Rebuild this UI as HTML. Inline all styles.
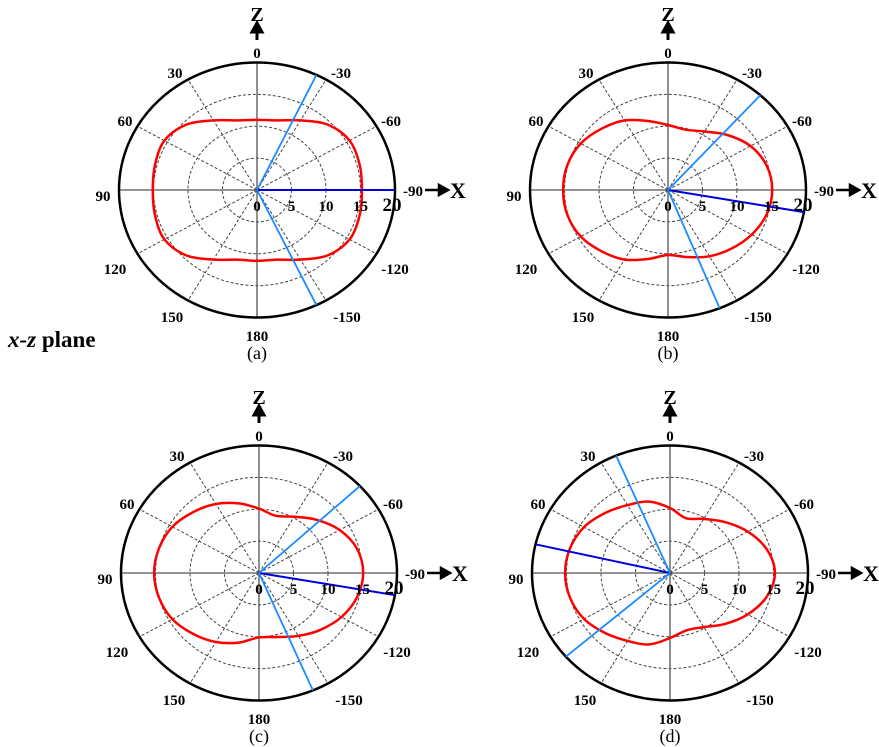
<!DOCTYPE html>
<html><head><meta charset="utf-8"><style>
html,body{margin:0;padding:0;background:#fff}
svg{display:block}
text{font-family:"Liberation Serif",serif;font-weight:bold;fill:#000}
text.cap{font-weight:normal}
</style></head><body>
<svg id="chart" width="879" height="747" viewBox="0 0 879 747" xmlns="http://www.w3.org/2000/svg">
<text x="8" y="347" font-size="23"><tspan font-style="italic">x-z</tspan> plane</text>
</svg>
<script>
const angles=[0,15,30,45,60,75,90,105,120,135,150,165,180,195,210,225,240,255,270,285,300,315,330,345];
const patternA=[11,11.3,12.6,14.5,15.5,15.3,15.1,15.3,15.5,14.5,12.6,11.3,11.1,11.3,12.6,14.5,15.5,15.4,15.2,15.4,15.5,14.5,12.6,11.3];
const patternB=[10.2,11.2,12.6,13.6,14.6,15.1,15.2,15.1,14.6,13.6,12.6,11.2,10.2,10.9,12.0,13.0,14.0,14.8,15.1,14.8,13.8,12.2,10.6,9.8];
const patternC=[10.1,11.3,12.5,13.5,14.5,15.0,15.2,15.0,14.5,13.5,12.5,11.3,10.1,10.4,11.4,12.6,13.8,14.7,15.1,14.7,13.5,11.8,10.2,9.3];
const patternD=[10.2,11.6,12.3,13.3,14.4,15.0,15.2,15.0,14.4,13.3,12.3,11.6,10.2,9.3,9.8,11.3,13.0,14.5,15.2,14.5,13.0,11.3,9.8,8.9];
const darkBeamAngles=[-90,-100,-100,77];
const lightBeamAngles=[[-25.5,-154.5],[-42,-158],[-47,-157],[23,131]];
const rTicks=[0,5,10,15,20];
const angleLabels=[0,30,60,90,120,150,180,-150,-120,-90,-60,-30];
const panelNames=["a","b","c","d"];
const patterns=[patternA,patternB,patternC,patternD];
const centers=[[257,190],[668,190],[259,573],[670,573]];
const RX=138,RY=127.5,RMAX=20;
const svg=document.getElementById('chart');
const NS='http://www.w3.org/2000/svg';
function mk(tag,attrs,parent){const e=document.createElementNS(NS,tag);for(const k in attrs)e.setAttribute(k,attrs[k]);(parent||svg).appendChild(e);return e;}
function px(c,r,a){const t=a*Math.PI/180;return [c[0]-r/RMAX*RX*Math.sin(t),c[1]-r/RMAX*RY*Math.cos(t)];}
function txt(g,x,y,s,size,name){const t=mk('text',{x:x,y:y,'font-size':size,'text-anchor':'middle'},g);t.textContent=s;

return t;}
const labelOff={0:[0,-137],30:[-82,-117],60:[-132,-69],90:[-154,6],120:[-142,79],150:[-85,127],180:[0,146],'-150':[90,127],'-120':[138,79],'-90':[0,0],'-60':[134,-69],'-30':[84,-117]};
for(let p=0;p<4;p++){
 const c=centers[p];
 const g=mk('g',{});
 
 
 for(const r of [5,10,15]){const e=mk('ellipse',{cx:c[0],cy:c[1],rx:r/RMAX*RX,ry:r/RMAX*RY,fill:'none',stroke:'#444','stroke-width':1,'stroke-dasharray':'3,2'},g);
 
 }
 for(const a of [30,60,120,150,-30,-60,-120,-150]){const q=px(c,RMAX,a);const l=mk('line',{x1:c[0],y1:c[1],x2:q[0],y2:q[1],stroke:'#444','stroke-width':1,'stroke-dasharray':'3,2'},g);
 
 }
 const ax1=mk('line',{x1:c[0]-RX,y1:c[1],x2:c[0]+RX,y2:c[1],stroke:'#555','stroke-width':1.3},g);
 
 
 const ax2=mk('line',{x1:c[0],y1:c[1]-RY,x2:c[0],y2:c[1]+RY,stroke:'#555','stroke-width':1.3},g);
 
 
 const outer=mk('ellipse',{cx:c[0],cy:c[1],rx:RX,ry:RY,fill:'none',stroke:'#000','stroke-width':2.5},g);
 
 
 const pts=angles.map((a,i)=>px(c,patterns[p][i],a));
 const n=pts.length;let d='M'+pts[0][0].toFixed(1)+','+pts[0][1].toFixed(1);
 for(let i=0;i<n;i++){const p0=pts[(i-1+n)%n],p1=pts[i],p2=pts[(i+1)%n],p3=pts[(i+2)%n];
  d+=' C'+(p1[0]+(p2[0]-p0[0])/6).toFixed(1)+','+(p1[1]+(p2[1]-p0[1])/6).toFixed(1)+' '+(p2[0]-(p3[0]-p1[0])/6).toFixed(1)+','+(p2[1]-(p3[1]-p1[1])/6).toFixed(1)+' '+p2[0].toFixed(1)+','+p2[1].toFixed(1);}
 const pat=mk('path',{d:d+'Z',fill:'none',stroke:'#f00','stroke-width':2.5},g);
 
 
 let q=px(c,RMAX,darkBeamAngles[p]);
 const db=mk('line',{x1:c[0],y1:c[1],x2:q[0],y2:q[1],stroke:'#0000dd','stroke-width':2},g);
 
 
 for(const a of lightBeamAngles[p]){q=px(c,RMAX,a);const lb=mk('line',{x1:c[0],y1:c[1],x2:q[0],y2:q[1],stroke:'#1a8cff','stroke-width':1.8},g);
 
 }
 for(const r of rTicks){const x=c[0]+r/RMAX*RX;txt(g,r===20?x-3:x,c[1]+21,String(r),r===20?19:15,'radial-tick-'+r);}
 for(const a of angleLabels){const o=labelOff[a];if(a===-90)continue;txt(g,c[0]+o[0],c[1]+o[1]+5,String(a),15,'angle-label-'+a);}
 txt(g,c[0]+156,c[1]+6,'-90',15,'angle-label--90');
 const xa=mk('path',{d:`M${c[0]+168},${c[1]} L${c[0]+184},${c[1]} M${c[0]+182},${c[1]-5} L${c[0]+191},${c[1]} L${c[0]+182},${c[1]+5}Z`,stroke:'#000','stroke-width':2.5,fill:'#000'},g);
 
 
 txt(g,c[0]+201,c[1]+8,'X',22,'x-axis-title');
 const za=mk('path',{d:`M${c[0]},${c[1]-150} L${c[0]},${c[1]-160} M${c[0]-5},${c[1]-158} L${c[0]},${c[1]-167} L${c[0]+5},${c[1]-158}Z`,stroke:'#000','stroke-width':3,fill:'#000'},g);
 
 
 txt(g,c[0],c[1]-169,'Z',20,'z-axis-title');
 const cap=txt(g,c[0],c[1]+169,'('+panelNames[p]+')',18,'panel-caption');
 cap.setAttribute('class','cap');
}
</script>
</body></html>
